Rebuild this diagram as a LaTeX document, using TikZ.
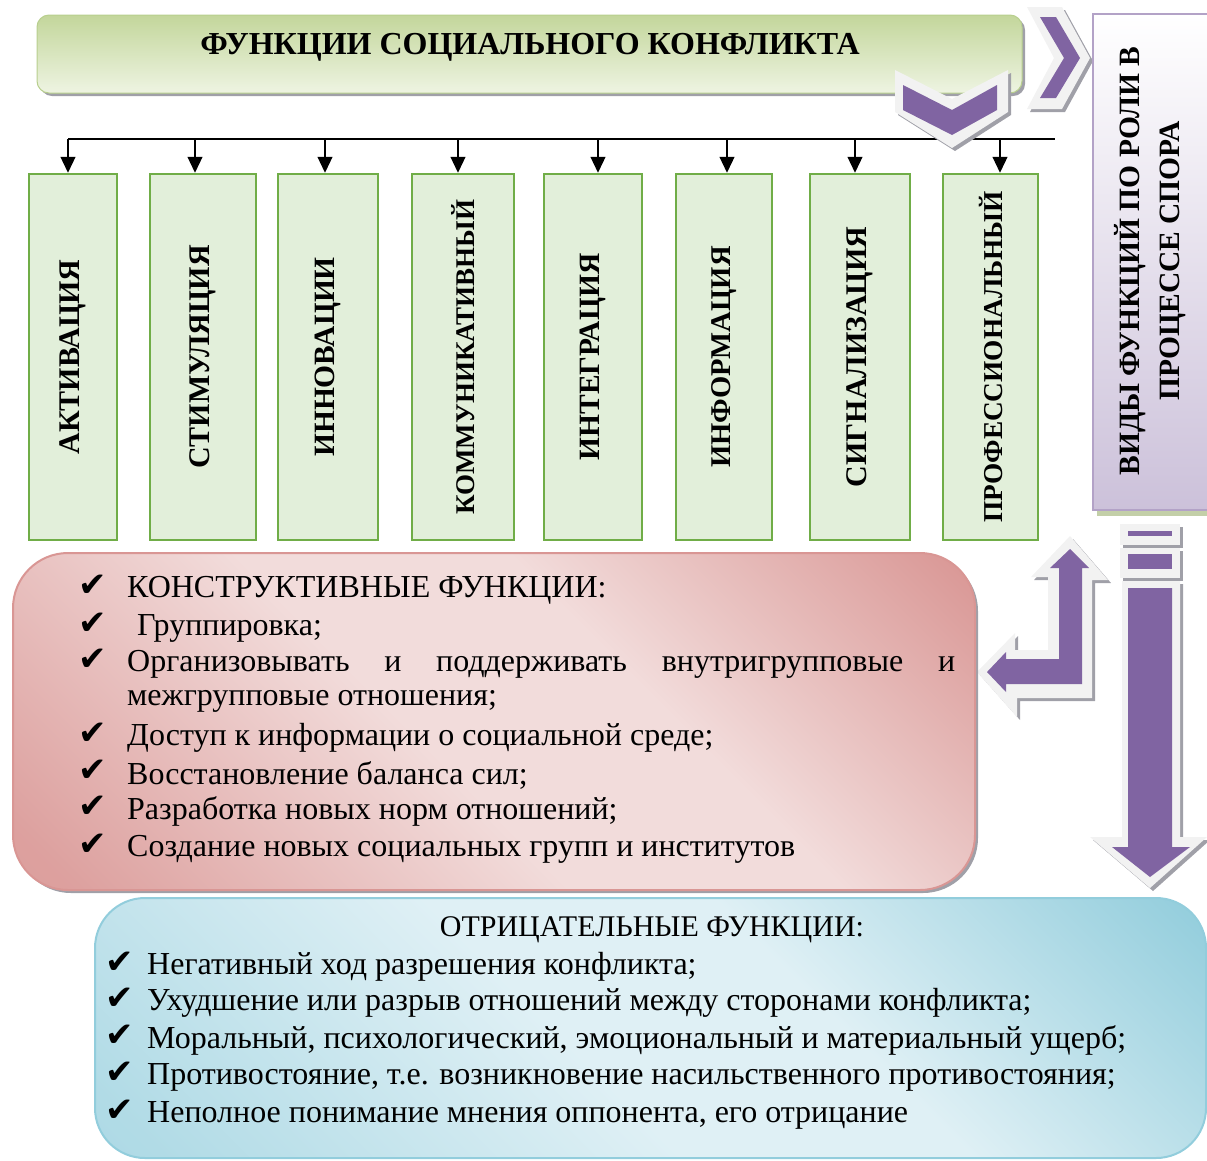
\documentclass[tikz,border=0pt]{standalone}
\usepackage{fontspec}
\setmainfont{Liberation Serif}
\newfontfamily\symf{DejaVu Sans}
\usetikzlibrary{arrows.meta}
\definecolor{purp}{HTML}{8064A2}
\definecolor{lgray}{HTML}{F2F2F2}
\definecolor{shad}{HTML}{A0A0A8}
\definecolor{gfill}{HTML}{E2EFDA}
\definecolor{gline}{HTML}{70AD47}
\definecolor{ttop}{HTML}{C3D69B}
\definecolor{tbot}{HTML}{EEF4E2}
\definecolor{tline}{HTML}{B8CF8E}
\definecolor{vline}{HTML}{B3A2C7}
\definecolor{vfill}{HTML}{CCC1DA}
\definecolor{vshad}{HTML}{C3CFA8}
\definecolor{rdark}{HTML}{D99694}
\definecolor{rlight}{HTML}{F2DCDB}
\definecolor{bdark}{HTML}{92CDDC}
\definecolor{blight}{HTML}{DFF0F5}
\pgfdeclarehorizontalshading{redsh}{100bp}{color(0bp)=(rdark); color(18bp)=(rdark!85!rlight); color(45bp)=(rlight); color(60bp)=(rlight); color(85bp)=(rdark); color(100bp)=(rdark)}
\pgfdeclarehorizontalshading{bluesh}{100bp}{color(0bp)=(bdark!80!blight); color(18bp)=(bdark!60!blight); color(45bp)=(blight); color(60bp)=(blight); color(85bp)=(bdark); color(100bp)=(bdark)}
\tikzset{
  gbox/.style={draw=gline, line width=2.5pt, fill=gfill, minimum width=#1, minimum height=366, inner sep=0pt},
  vlab/.style={rotate=90, font=\fontsize{#1}{30}\selectfont\bfseries},
  arr/.style={line width=1.2pt, -{Triangle[width=15pt,length=16pt]}},
  body/.style={font=\fontsize{32}{36}\selectfont, anchor=west, inner sep=0pt},
  chk/.style={font=\symf\fontsize{34}{36}\selectfont, inner sep=0pt},
  sh/.style={fill=shad},
  outl/.style={fill=lgray},
  inn/.style={fill=purp}
}
\begin{document}
\begin{tikzpicture}[x=1pt,y=-1pt]
\useasboundingbox (0,0) rectangle (1207,1160);
% ---------- title ----------
\fill[shad, rounded corners=12] (40,18) rectangle (1025,96);
\node[draw=tline, line width=1pt, rounded corners=12, top color=ttop, bottom color=tbot,
      minimum width=985, minimum height=78, inner sep=0pt] (title) at (529.5,54) {};
\node[font=\fontsize{32}{36}\selectfont\bfseries] (tt) at (530,47) {ФУНКЦИИ СОЦИАЛЬНОГО КОНФЛИКТА};
% ---------- bus line ----------
\coordinate (t1) at (68,139);
\coordinate (t2) at (195,139);
\coordinate (t3) at (325,139);
\coordinate (t4) at (458,139);
\coordinate (t5) at (598,139);
\coordinate (t6) at (727,139);
\coordinate (t7) at (855,139);
\coordinate (t8) at (1000,139);
\coordinate (tend) at (1055,139);
\draw[line width=1.2pt] (t1) -- (tend);
% ---------- right chevron ----------
\fill[sh] (1030,10) -- (1065,10) -- (1093,61) -- (1065,112) -- (1030,112) -- (1057,61) -- cycle;
\fill[outl] (1027,7) -- (1062,7) -- (1090,58) -- (1062,109) -- (1027,109) -- (1054,58) -- cycle;
\fill[inn] (1040,17) -- (1056,17) -- (1080,58) -- (1056,98) -- (1040,98) -- (1064,58) -- cycle;
% ---------- down chevron ----------
\fill[sh] (898,73) -- (955,102) -- (1011,73) -- (1011,115) -- (955,151) -- (898,115) -- cycle;
\fill[outl] (895,70) -- (952,99) -- (1008,70) -- (1008,112) -- (952,148) -- (895,112) -- cycle;
\fill[inn] (903,85) -- (952,110) -- (997,85) -- (997,110) -- (952,135) -- (903,110) -- cycle;
% ---------- green boxes ----------
\node[gbox=88] (b1) at (73,357) {};
\node[gbox=106] (b2) at (203,357) {};
\node[gbox=100] (b3) at (328,357) {};
\node[gbox=102] (b4) at (463,357) {};
\node[gbox=98] (b5) at (593,357) {};
\node[gbox=96] (b6) at (724,357) {};
\node[gbox=100] (b7) at (860,357) {};
\node[gbox=95] (b8) at (990.5,357) {};
\node[vlab=30] at (b1) {АКТИВАЦИЯ};
\node[vlab=30] at (b2) {СТИМУЛЯЦИЯ};
\node[vlab=29.5] at (b3) {ИННОВАЦИИ};
\node[vlab=27] at (b4) {КОММУНИКАТИВНЫЙ};
\node[vlab=29.5] at (b5) {ИНТЕГРАЦИЯ};
\node[vlab=28.6] at (b6) {ИНФОРМАЦИЯ};
\node[vlab=30] at (b7) {СИГНАЛИЗАЦИЯ};
\node[vlab=27.3] at (b8) {ПРОФЕССИОНАЛЬНЫЙ};
\foreach \i in {1,...,8} {\draw[arr] (t\i) -- (t\i |- b\i.north);}
% ---------- right purple box ----------
\fill[vshad] (1097,18) rectangle (1211,516);
\node[draw=vline, line width=2pt, top color=white, bottom color=vfill,
      minimum width=116, minimum height=496, inner sep=0pt] (vbox) at (1151,262) {};
\node[rotate=90, align=center, font=\fontsize{29.5}{40}\selectfont\bfseries] at (1150,261)
  {ВИДЫ ФУНКЦИЙ ПО РОЛИ В\\ПРОЦЕССЕ СПОРА};
% ---------- L arrow ----------
\fill[sh] (1073,539) -- (1111,583) -- (1095,583) -- (1095,701) -- (1020,701) -- (1020,720) -- (980,675) -- (1018,636) -- (1018,653) -- (1051,653) -- (1051,580) -- (1034,580) -- cycle;
\fill[outl] (1070,536) -- (1108,580) -- (1092,580) -- (1092,698) -- (1017,698) -- (1017,717) -- (977,672) -- (1015,633) -- (1015,650) -- (1048,650) -- (1048,577) -- (1031,577) -- cycle;
\fill[inn] (1070,549) -- (1089,568) -- (1082,568) -- (1082,684) -- (1006,684) -- (1006,692) -- (987,672) -- (1006,652) -- (1006,659) -- (1059,659) -- (1059,568) -- (1050,568) -- cycle;
% ---------- striped down arrow ----------
\fill[sh] (1123,527) rectangle (1183,548);
\fill[sh] (1123,551) rectangle (1183,581);
\fill[sh] (1125,584) -- (1183,584) -- (1183,840) -- (1210,840) -- (1153,891) -- (1093,840) -- (1125,840) -- cycle;
\fill[outl] (1120,524) rectangle (1180,545);
\fill[outl] (1120,548) rectangle (1180,578);
\fill[outl] (1122,581) -- (1180,581) -- (1180,837) -- (1207,837) -- (1150,888) -- (1090,837) -- (1122,837) -- cycle;
\fill[inn] (1128,531) rectangle (1172,536);
\fill[inn] (1128,554) rectangle (1172,569);
\fill[inn] (1128,588) -- (1172,588) -- (1172,847) -- (1190,847) -- (1150,877) -- (1112,847) -- (1128,847) -- cycle;
% ---------- red box ----------
\fill[shad, rounded corners=55] (16,556) rectangle (978,893);
\path[draw=rdark, line width=2pt, rounded corners=55, shading=redsh, shading angle=45] (13,553) rectangle (975,890);
\node (rb) at (494,721) {};
\foreach \y/\t in {590/{КОНСТРУКТИВНЫЕ ФУНКЦИИ:}, 628/{\hspace{10pt}Группировка;}, 701/{межгрупповые отношения;}, 738/{Доступ к информации о социальной среде;}, 775/{Восстановление баланса сил;}, 811/{Разработка новых норм отношений;}, 849/{Создание новых социальных групп и институтов}}
  {\node[body] at (127,\y) {\t};}
\node[body] at (127,664) {\makebox[828pt][s]{Организовывать и поддерживать внутригрупповые и}};
\foreach \y in {590,628,664,738,775,811,849} {\node[chk] at (93,\y-4) {✔};}
% ---------- blue box ----------
\path[draw=bdark, line width=2pt, rounded corners=50, shading=bluesh, shading angle=45] (95,898) rectangle (1206,1158);
\node[font=\fontsize{30}{34}\selectfont, inner sep=0pt] (bt) at (652,930) {ОТРИЦАТЕЛЬНЫЕ ФУНКЦИИ:};
\foreach \y/\t in {967/{Негативный ход разрешения конфликта;}, 1003/{Ухудшение или разрыв отношений между сторонами конфликта;}, 1040/{Моральный, психологический, эмоциональный и материальный ущерб;}, 1077/{Противостояние, т.е. возникновение насильственного противостояния;}, 1115/{Неполное понимание мнения оппонента, его отрицание}}
  {\node[body] at (147,\y) {\t}; \node[chk] at (120,\y-4) {✔};}
\end{tikzpicture}
\end{document}
